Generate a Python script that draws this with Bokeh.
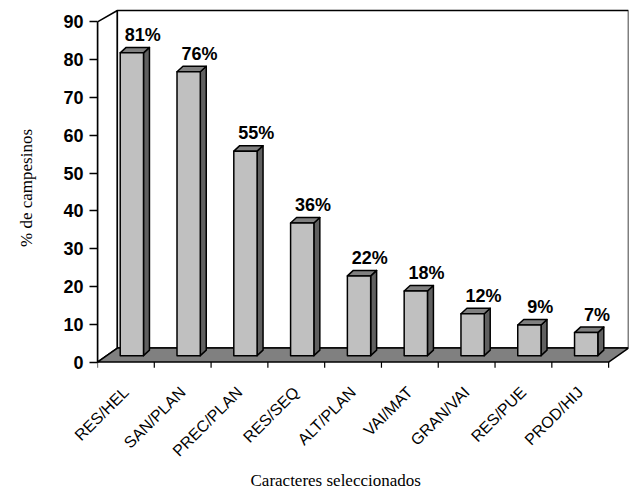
import math
from bokeh.plotting import figure
from bokeh.models import FixedTicker, Range1d, Title
from bokeh.core.properties import value
from bokeh.embed import file_html
from bokeh.resources import INLINE

categories = ["RES/HEL", "SAN/PLAN", "PREC/PLAN", "RES/SEQ", "ALT/PLAN",
              "VAI/MAT", "GRAN/VAI", "RES/PUE", "PROD/HIJ"]
percentages = [81, 76, 55, 36, 22, 18, 12, 9, 7]
y_ticks = [0, 10, 20, 30, 40, 50, 60, 70, 80, 90]
y_max = 90

# 3D geometry (data units)
DX = 0.35      # depth of the floor/back wall in x
DYB = 3.7      # depth offset at floor
DYT = 3.0      # depth offset at the top of the back wall
BX = 0.40      # bar front-face left offset inside category
BW = 0.41      # bar front-face width
BB = 1.7       # bar front-face base
BT = 0.8       # bar top offset
BDX = 0.105    # bar depth in x
BDY = 1.45     # bar depth in y

n = len(categories)

p = figure(width=636, height=499, output_backend="svg", toolbar_location=None,
           x_range=Range1d(0, n + DX), y_range=Range1d(-1.7, 93.8),
           min_border_left=97, min_border_right=8, min_border_top=7,
           min_border_bottom=131)
p.outline_line_color = None
p.xgrid.visible = False
p.ygrid.visible = False
p.background_fill_color = "white"

# walls
p.patch([0, 0, DX, DX], [0, y_max, y_max + DYT, DYB], fill_color="white",
        line_color="black", line_width=1.5)
p.patch([DX, DX, n + DX, n + DX], [DYB, y_max + DYT, y_max + DYT, DYB],
        fill_color="white", line_color="black", line_width=1.5)
# floor
p.patch([0, n, n + DX, DX], [0, 0, DYB, DYB], fill_color="#808080",
        line_color="black", line_width=1.5)

# category boundary ticks
p.segment(x0=list(range(n + 1)), y0=[0] * (n + 1), x1=list(range(n + 1)),
          y1=[-1.5] * (n + 1), line_color="black", line_width=1.2)

front_xs, front_ys, side_xs, side_ys, top_xs, top_ys = [], [], [], [], [], []
for i, v in enumerate(percentages):
    x0 = i + BX
    x1 = x0 + BW
    y0 = BB
    y1 = v + BT
    front_xs.append([x0, x1, x1, x0])
    front_ys.append([y0, y0, y1, y1])
    side_xs.append([x1, x1 + BDX, x1 + BDX, x1])
    side_ys.append([y0, y0 + BDY, y1 + BDY, y1])
    top_xs.append([x0, x0 + BDX, x1 + BDX, x1])
    top_ys.append([y1, y1 + BDY, y1 + BDY, y1])

p.patches(side_xs, side_ys, fill_color="#606060", line_color="black",
          line_width=1.5, line_join="round")
p.patches(top_xs, top_ys, fill_color="#808080", line_color="black",
          line_width=1.5, line_join="round")
p.patches(front_xs, front_ys, fill_color="#C0C0C0", line_color="black",
          line_width=1.5, line_join="round")

# value labels
p.text(x=[i + BX + BW / 2 + 0.19 for i in range(n)],
       y=[v + BT for v in percentages],
       text=[f"{v}%" for v in percentages],
       text_align="center", text_baseline="alphabetic", y_offset=-18,
       text_font=value("Liberation Sans"), text_font_style="bold",
       text_font_size="18px", text_color="black")

# y axis
ya = p.yaxis[0]
ya.ticker = FixedTicker(ticks=y_ticks)
ya.bounds = (0, y_max)
ya.axis_line_width = 1.5
ya.major_tick_line_width = 1.5
ya.major_tick_out = 8
ya.major_tick_in = 0
ya.minor_tick_line_color = None
ya.major_label_standoff = 6
ya.major_label_text_font = "Liberation Sans"
ya.major_label_text_font_style = "bold"
ya.major_label_text_font_size = "18px"
ya.major_label_text_color = "black"
ya.axis_label = "% de campesinos"
ya.axis_label_text_font = "Liberation Serif"
ya.axis_label_text_font_style = "normal"
ya.axis_label_text_font_size = "17px"
ya.axis_label_standoff = 24
ya.axis_label_text_color = "black"

# x axis (labels only)
xa = p.xaxis[0]
tick_pos = [i + 0.5 for i in range(n)]
xa.ticker = FixedTicker(ticks=tick_pos)
xa.major_label_overrides = {t: c for t, c in zip(tick_pos, categories)}
xa.axis_line_color = None
xa.major_tick_line_color = None
xa.minor_tick_line_color = None
xa.major_label_orientation = math.pi / 4
xa.major_label_standoff = 15
xa.major_label_text_font = "Liberation Sans"
xa.major_label_text_font_size = "16px"
xa.major_label_text_color = "black"

p.add_layout(Title(text="Caracteres seleccionados", align="left", offset=153,
                   text_font="Liberation Serif", text_font_size="17px",
                   text_font_style="normal", text_color="black",
                   standoff=1), "below")

open("out.html", "w").write(file_html(p, INLINE))
